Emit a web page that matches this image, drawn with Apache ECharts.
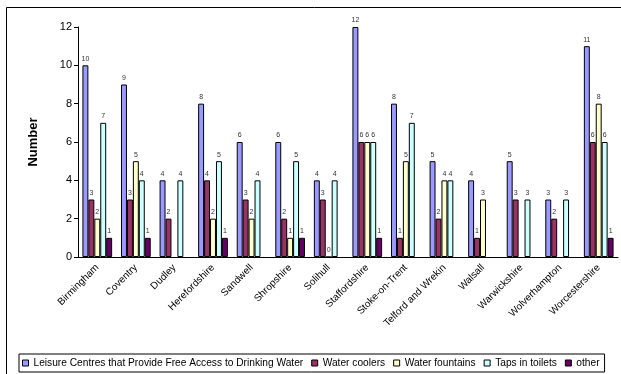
<!DOCTYPE html>
<html>
<head>
<meta charset="utf-8">
<script src="https://cdn.jsdelivr.net/npm/echarts@6/dist/echarts.min.js"></script>
<style>
  html, body { margin: 0; padding: 0; background: #fff; }
  #chart { width: 621px; height: 374px; }
</style>
</head>
<body>
<div id="chart"></div>
<script>
// Areas surveyed
const categories = ['Birmingham', 'Coventry', 'Dudley', 'Herefordshire', 'Sandwell', 'Shropshire', 'Solihull',
  'Staffordshire', 'Stoke-on-Trent', 'Telford and Wrekin', 'Walsall', 'Warwickshire', 'Wolverhampton', 'Worcestershire'];

// Counts per area (null = not reported)
const leisureCentres = [10, 9, 4, 8, 6, 6, 4, 12, 8, 5, 4, 5, 3, 11];
const waterCoolers   = [3, 3, 2, 4, 3, 2, 3, 6, 1, 2, 1, 3, 2, 6];
const waterFountains = [2, 5, null, 2, 2, 1, 0, 6, 5, 4, 3, null, null, 8];
const tapsInToilets  = [7, 4, 4, 5, 4, 5, 4, 6, 7, 4, null, 3, 3, 6];
const other          = [1, 1, null, 1, null, 1, null, 1, null, null, null, null, null, 1];

const seriesNames = ['Leisure Centres that Provide Free Access to Drinking Water', 'Water coolers',
  'Water fountains', 'Taps in toilets', 'other'];
const seriesData = [leisureCentres, waterCoolers, waterFountains, tapsInToilets, other];
const seriesColors = ['#9999FF', '#993366', '#FFFFCC', '#CCFFFF', '#660066'];

const yTicks = { min: 0, max: 12, interval: 2 };

const font = 'Liberation Sans, Arial, sans-serif';

const chart = echarts.init(document.getElementById('chart'), null, { renderer: 'canvas' });

chart.setOption({
  animation: false,
  textStyle: { fontFamily: font },
  graphic: [{
    type: 'rect',
    shape: { x: 6.5, y: 7.5, width: 700, height: 500 },
    style: { fill: 'none', stroke: '#000', lineWidth: 1 },
    silent: true
  }],
  grid: { left: 78, right: 3, top: 27, bottom: 117, containLabel: false },
  legend: {
    left: 19, top: 354,
    padding: [4, 5, 4, 3],
    itemGap: 8,
    itemWidth: 6, itemHeight: 6,
    icon: 'rect',
    borderColor: '#000', borderWidth: 1,
    textStyle: { fontSize: 10.2, color: '#000', fontFamily: font },
    data: seriesNames.map((n, i) => ({
      name: n,
      itemStyle: { color: seriesColors[i], borderColor: '#000', borderWidth: 1 }
    }))
  },
  xAxis: {
    type: 'category',
    data: categories,
    axisLine: { lineStyle: { color: '#000', width: 1 } },
    axisTick: { lineStyle: { color: '#000' }, length: 4 },
    axisLabel: { rotate: 45, fontSize: 10, color: '#000', margin: 9, interval: 0, fontFamily: font }
  },
  yAxis: {
    type: 'value',
    min: yTicks.min, max: yTicks.max, interval: yTicks.interval,
    name: 'Number',
    nameLocation: 'middle',
    nameGap: 38,
    nameTextStyle: { fontSize: 13, fontWeight: 'bold', color: '#000', fontFamily: font },
    axisLine: { show: true, lineStyle: { color: '#000', width: 1 } },
    axisTick: { show: true, lineStyle: { color: '#000' }, length: 4 },
    splitLine: { show: false },
    axisLabel: { fontSize: 11, color: '#000', margin: 6, fontFamily: font }
  },
  series: seriesNames.map((n, i) => ({
    name: n,
    type: 'bar',
    data: seriesData[i],
    barGap: '0%',
    barCategoryGap: '23%',
    itemStyle: { color: seriesColors[i], borderColor: '#000', borderWidth: 1 },
    label: {
      show: true, position: 'top', distance: 3,
      fontSize: 7, color: '#333', fontFamily: font
    }
  }))
});
</script>
</body>
</html>
